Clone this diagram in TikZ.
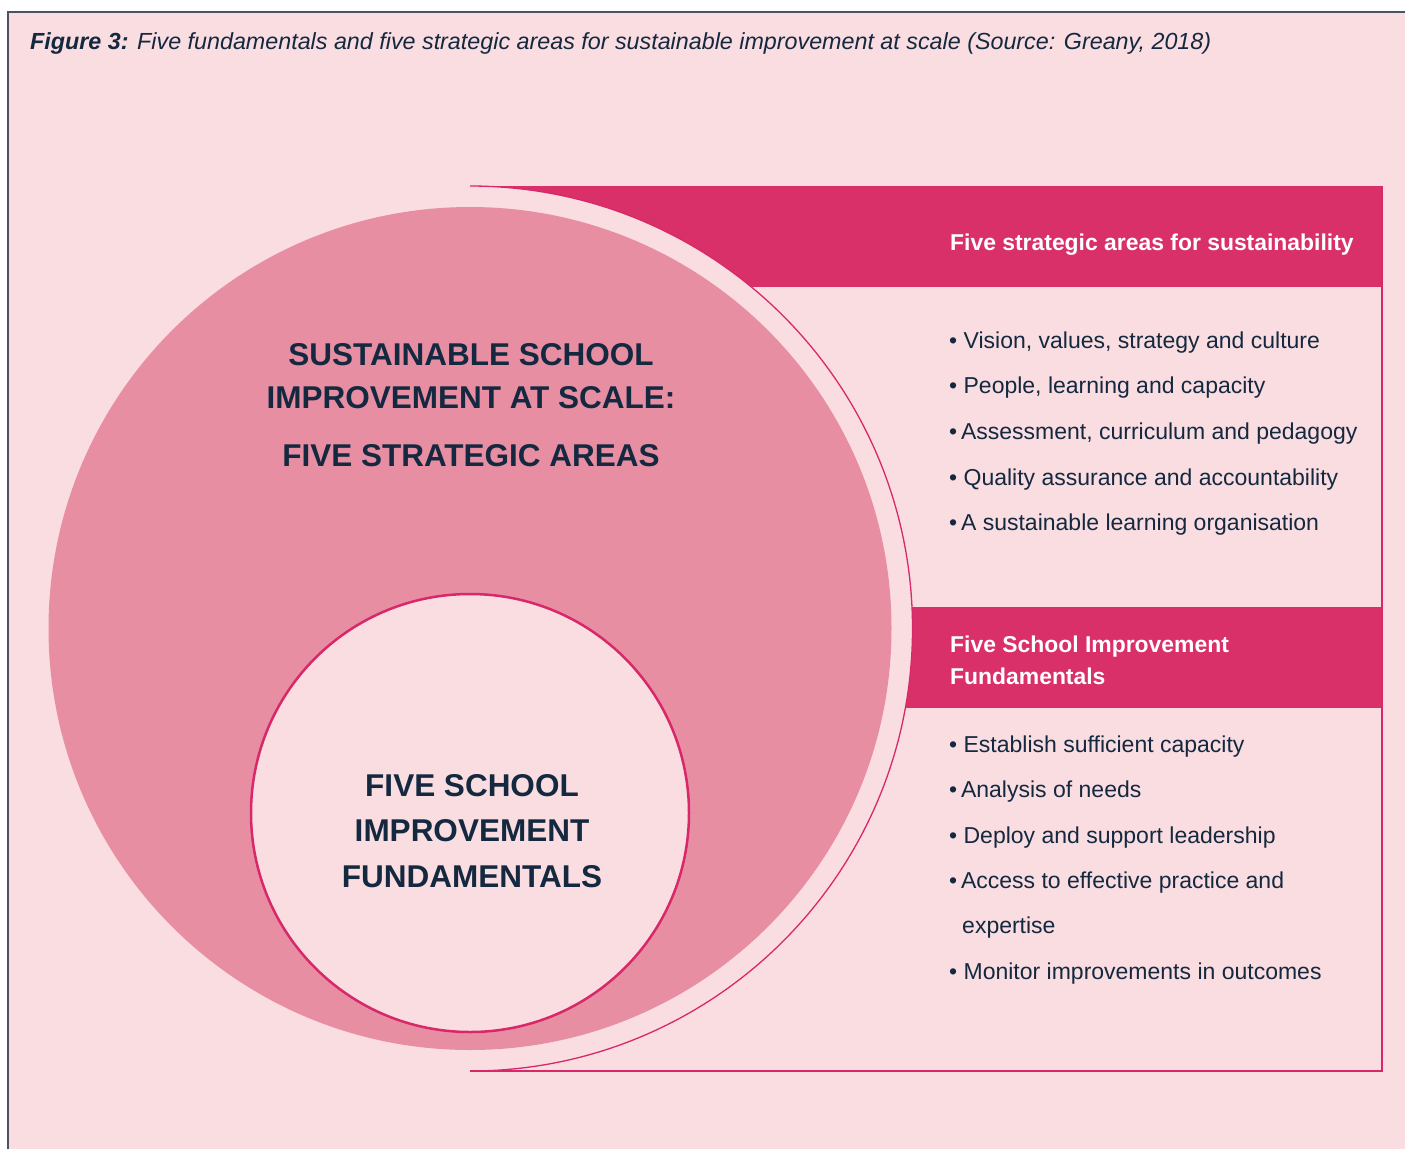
\documentclass[tikz,border=0pt]{standalone}
\usepackage{fontspec}
\setmainfont{Liberation Sans}
\definecolor{bgpink}{HTML}{F9DDE1}
\definecolor{hdrpink}{HTML}{DA3069}
\definecolor{circpink}{HTML}{E88EA2}
\definecolor{linepink}{HTML}{D8286A}
\definecolor{navy}{HTML}{14283F}
\definecolor{framegray}{HTML}{4B5263}
\begin{document}
\begin{tikzpicture}[x=1pt,y=-1pt,
  circtxt/.style={anchor=base, text=navy, inner sep=0pt, font=\fontsize{31.5}{36}\selectfont\bfseries},
  hdrtxt/.style={anchor=base west, text=white, inner sep=0pt, font=\fontsize{22.9}{26}\selectfont\bfseries},
  bullet/.style={anchor=base west, text=navy, inner sep=0pt, font=\fontsize{23}{26}\selectfont},
  band/.style={fill=hdrpink, draw=none}]
\useasboundingbox (0,0) rectangle (1405,1149);
\fill[white] (0,0) rectangle (1405,1149);
\fill[bgpink] (8,12) rectangle (1405,1149);
\draw[framegray, line width=1.5pt] (8,1149) -- (8,12) -- (1405,12);
% title
\node[anchor=base west, text=navy, inner sep=0pt, font=\fontsize{23.3}{27}\selectfont\itshape] (title) at (30,49) {\textbf{Figure 3:} Five fundamentals and five strategic areas for sustainable improvement at scale (Source: Greany, 2018)};
% header bands
\fill[band] (470,186) rectangle (1382,287);
\fill[band] (880,607) rectangle (1382,708);
% outer circle area (covers band parts)
\node[circle, fill=bgpink, minimum size=885pt, inner sep=0pt] (outer) at (470,628.5) {};
\draw[linepink, line width=1.3pt] (470,186) arc[start angle=-90, end angle=90, radius=442.5];
% box borders
\draw[linepink, line width=1.5pt] (470,1071) -- (1382,1071) -- (1382,186);
% big circle
\node[circle, fill=circpink, minimum size=843pt, inner sep=0pt] (big) at (470,628.5) {};
% inner circle
\node[circle, fill=bgpink, draw=linepink, line width=2.5pt, minimum size=438pt, inner sep=0pt] (inner) at (470,813) {};
% circle texts
\node[circtxt] (s1) at (471,365) {SUSTAINABLE SCHOOL};
\node[circtxt] (s2) at (471,408) {IMPROVEMENT AT SCALE:};
\node[circtxt] (s3) at (471,466) {FIVE STRATEGIC AREAS};
\node[circtxt] (f1) at (472,796) {FIVE SCHOOL};
\node[circtxt] (f2) at (472,841) {IMPROVEMENT};
\node[circtxt] (f3) at (472,887) {FUNDAMENTALS};
% headers
\node[hdrtxt] (h1) at (950,250) {Five strategic areas for sustainability};
\node[hdrtxt] (h2a) at (950,652) {Five School Improvement};
\node[hdrtxt] (h2b) at (950,684) {Fundamentals};
% bullets 1
\node[bullet] (a1) at (949,348) {• Vision, values, strategy and culture};
\node[bullet] (a2) at (949,393) {• People, learning and capacity};
\node[bullet] (a3) at (949,439) {•\,Assessment, curriculum and pedagogy};
\node[bullet] (a4) at (949,485) {• Quality assurance and accountability};
\node[bullet] (a5) at (949,530) {•\,A sustainable learning organisation};
% bullets 2
\node[bullet] (b1) at (949,752) {• Establish sufficient capacity};
\node[bullet] (b2) at (949,797) {•\,Analysis of needs};
\node[bullet] (b3) at (949,843) {• Deploy and support leadership};
\node[bullet] (b4) at (949,888) {•\,Access to effective practice and};
\node[bullet] (b4b) at (962,933) {expertise};
\node[bullet] (b5) at (949,979) {• Monitor improvements in outcomes};
\end{tikzpicture}
\end{document}
